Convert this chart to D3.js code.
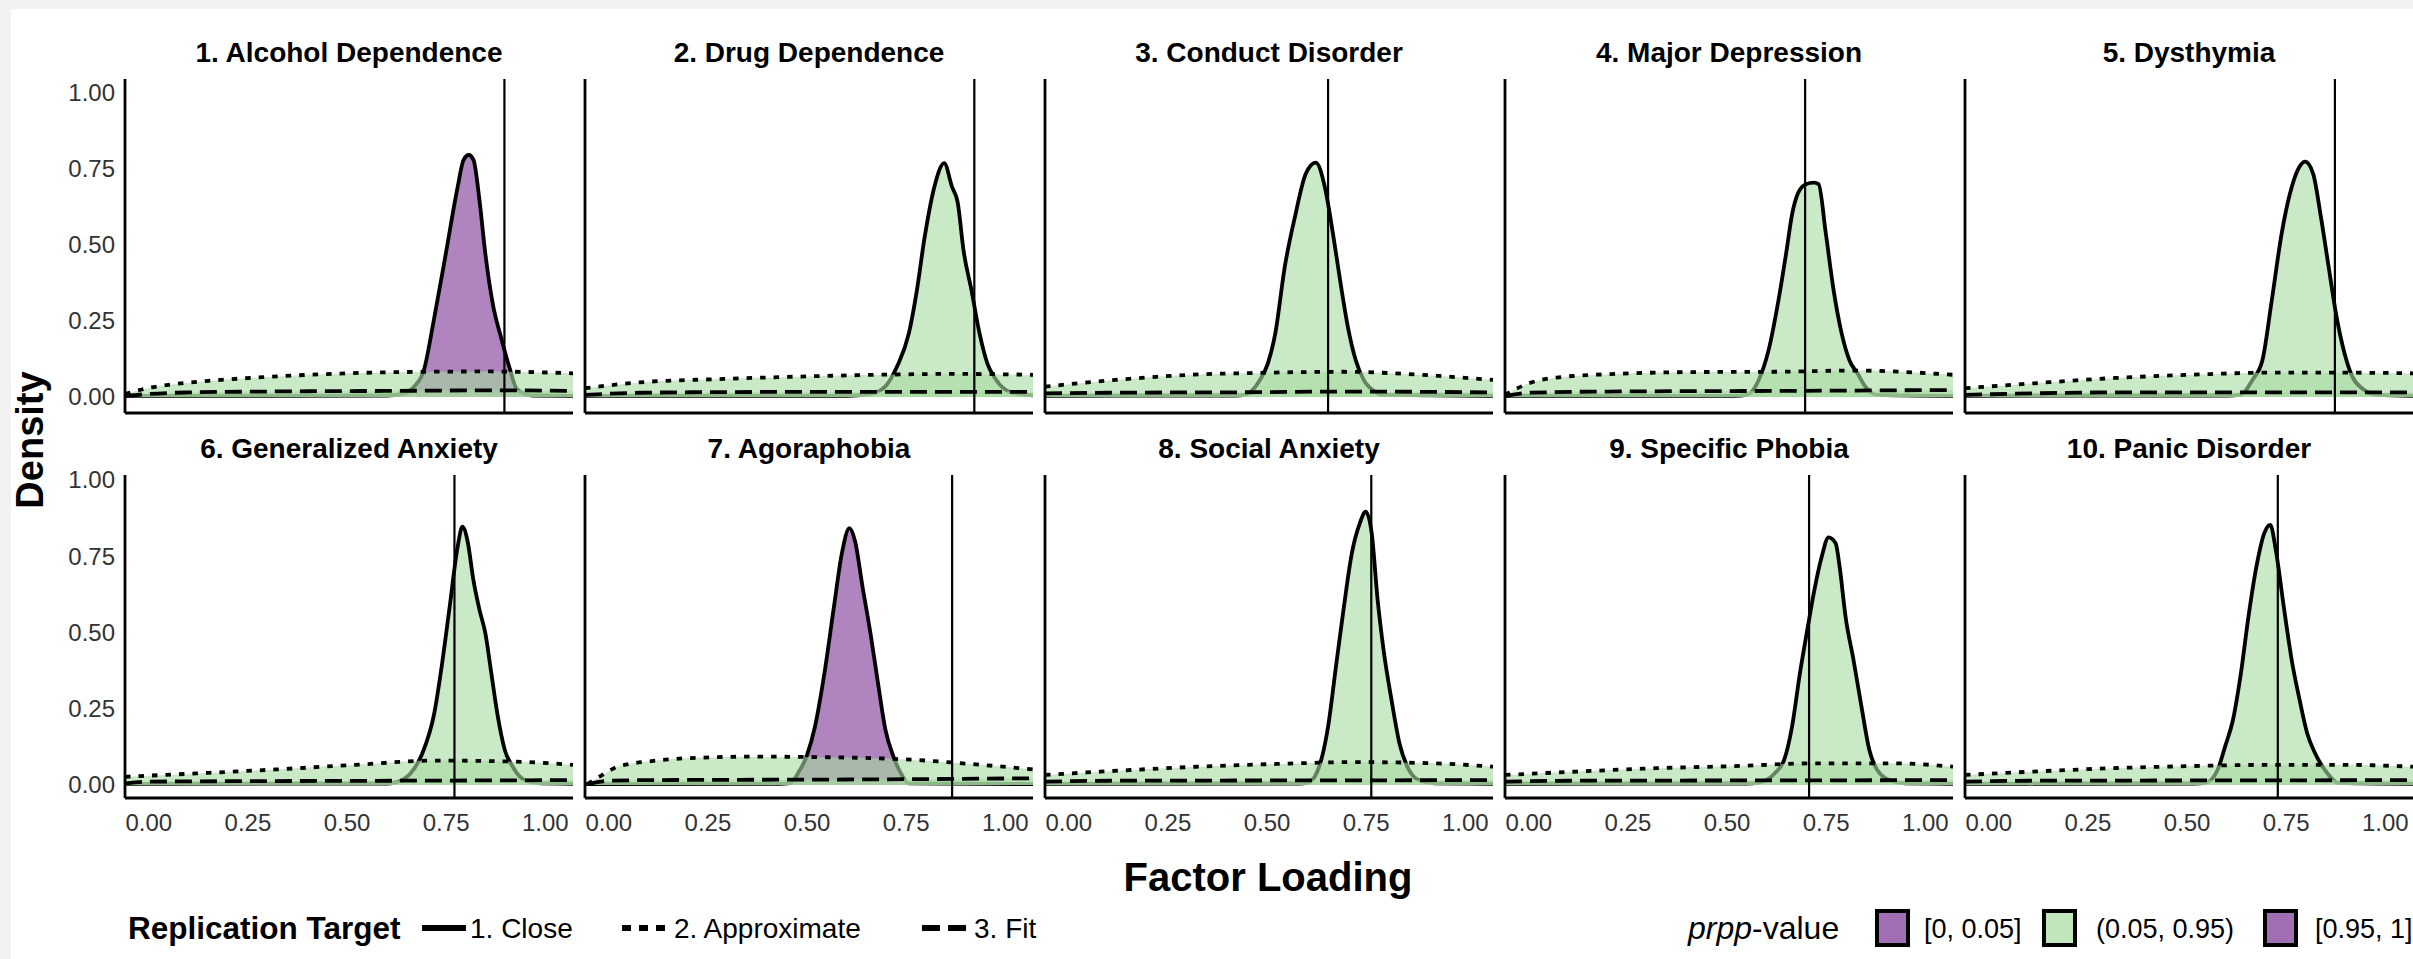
<!DOCTYPE html>
<html><head><meta charset="utf-8">
<script src="https://cdn.jsdelivr.net/npm/d3@7"></script>
<style>body{margin:0;background:#fff;} svg{display:block;}</style>
</head><body>
<script>
// ---------------- DATA ----------------
const titles = ["1. Alcohol Dependence","2. Drug Dependence","3. Conduct Disorder","4. Major Depression","5. Dysthymia",
                "6. Generalized Anxiety","7. Agoraphobia","8. Social Anxiety","9. Specific Phobia","10. Panic Disorder"];
const refLoadings = [0.897, 0.922, 0.654, 0.697, 0.873, 0.771, 0.866, 0.763, 0.707, 0.729];
const prppBins = ["[0, 0.05]","(0.05, 0.95)","(0.05, 0.95)","(0.05, 0.95)","(0.05, 0.95)",
                  "(0.05, 0.95)","[0, 0.05]","(0.05, 0.95)","(0.05, 0.95)","(0.05, 0.95)"];
// 1. Close replication: posterior density of loading  [loading, density]
const closeCurves = [
 [[-0.06,0.004],[0.3,0.004],[0.6,0.005],[0.64,0.01],[0.669,0.034],[0.694,0.089],[0.719,0.253],[0.749,0.47],[0.779,0.69],[0.794,0.78],[0.807,0.796],[0.819,0.78],[0.834,0.648],[0.849,0.47],[0.869,0.297],[0.888,0.198],[0.909,0.10],[0.929,0.025],[0.969,0.005],[1.07,0.004]],
 [[-0.06,0.004],[0.6,0.004],[0.66,0.01],[0.697,0.034],[0.727,0.10],[0.757,0.21],[0.777,0.35],[0.796,0.52],[0.821,0.69],[0.846,0.769],[0.866,0.69],[0.88,0.64],[0.895,0.48],[0.915,0.35],[0.935,0.21],[0.955,0.11],[0.975,0.06],[1.015,0.015],[1.07,0.005]],
 [[-0.06,0.004],[0.42,0.005],[0.445,0.008],[0.482,0.056],[0.502,0.11],[0.521,0.21],[0.545,0.43],[0.57,0.59],[0.598,0.735],[0.623,0.771],[0.646,0.69],[0.666,0.54],[0.686,0.37],[0.704,0.23],[0.724,0.12],[0.744,0.056],[0.772,0.018],[0.79,0.007],[1.07,0.004]],
 [[-0.06,0.004],[0.52,0.004],[0.55,0.007],[0.58,0.056],[0.605,0.155],[0.63,0.32],[0.65,0.48],[0.664,0.60],[0.679,0.67],[0.699,0.70],[0.719,0.705],[0.731,0.70],[0.749,0.54],[0.769,0.35],[0.789,0.21],[0.809,0.12],[0.829,0.078],[0.849,0.034],[0.878,0.007],[1.07,0.004]],
 [[-0.06,0.004],[0.6,0.005],[0.636,0.008],[0.665,0.056],[0.69,0.12],[0.714,0.32],[0.739,0.54],[0.764,0.69],[0.784,0.758],[0.798,0.774],[0.818,0.735],[0.838,0.59],[0.857,0.43],[0.877,0.265],[0.897,0.145],[0.917,0.067],[0.941,0.029],[0.981,0.007],[1.07,0.004]],
 [[-0.06,0.004],[0.6,0.005],[0.62,0.008],[0.66,0.038],[0.69,0.104],[0.72,0.235],[0.74,0.40],[0.759,0.585],[0.779,0.781],[0.791,0.847],[0.804,0.80],[0.819,0.67],[0.834,0.575],[0.849,0.497],[0.864,0.366],[0.879,0.235],[0.898,0.115],[0.918,0.06],[0.948,0.016],[0.988,0.005],[1.07,0.004]],
 [[-0.06,0.003],[0.43,0.004],[0.457,0.006],[0.477,0.038],[0.50,0.098],[0.52,0.191],[0.544,0.367],[0.568,0.585],[0.588,0.76],[0.607,0.842],[0.621,0.80],[0.64,0.65],[0.66,0.498],[0.679,0.334],[0.698,0.18],[0.718,0.093],[0.737,0.038],[0.757,0.005],[1.07,0.003]],
 [[-0.06,0.004],[0.58,0.005],[0.604,0.008],[0.634,0.07],[0.654,0.191],[0.674,0.389],[0.694,0.585],[0.714,0.76],[0.734,0.858],[0.749,0.896],[0.764,0.826],[0.779,0.607],[0.794,0.443],[0.814,0.279],[0.834,0.137],[0.854,0.06],[0.883,0.016],[0.923,0.005],[1.07,0.004]],
 [[-0.06,0.004],[0.55,0.005],[0.58,0.008],[0.62,0.038],[0.644,0.082],[0.664,0.191],[0.684,0.367],[0.704,0.52],[0.719,0.63],[0.739,0.749],[0.756,0.812],[0.774,0.793],[0.784,0.716],[0.799,0.552],[0.819,0.41],[0.839,0.258],[0.859,0.115],[0.879,0.049],[0.909,0.016],[0.949,0.005],[1.07,0.004]],
 [[-0.06,0.004],[0.52,0.005],[0.547,0.007],[0.577,0.049],[0.596,0.126],[0.616,0.214],[0.636,0.367],[0.655,0.552],[0.675,0.716],[0.695,0.826],[0.71,0.853],[0.724,0.77],[0.744,0.585],[0.764,0.41],[0.784,0.279],[0.803,0.17],[0.823,0.104],[0.848,0.049],[0.882,0.007],[1.07,0.004]]
];
// 2. Approximate replication
const approxCurves = [
 [[-0.06,0.01],[0.0,0.03],[0.05,0.04],[0.15,0.053],[0.3,0.066],[0.5,0.078],[0.7,0.083],[0.85,0.084],[1.07,0.078]],
 [[-0.06,0.029],[0.077,0.048],[0.277,0.059],[0.476,0.067],[0.675,0.073],[0.874,0.076],[1.07,0.073]],
 [[-0.06,0.034],[0.116,0.056],[0.308,0.073],[0.502,0.08],[0.694,0.083],[0.888,0.073],[1.07,0.056]],
 [[-0.06,0.007],[0.0,0.045],[0.07,0.064],[0.22,0.076],[0.42,0.082],[0.62,0.083],[0.82,0.087],[1.07,0.073]],
 [[-0.06,0.029],[0.113,0.045],[0.31,0.062],[0.507,0.073],[0.704,0.08],[0.9,0.08],[1.07,0.078]],
 [[-0.06,0.027],[0.12,0.038],[0.32,0.051],[0.52,0.066],[0.72,0.08],[0.918,0.077],[1.07,0.066]],
 [[-0.054,0.003],[-0.016,0.033],[0.023,0.06],[0.12,0.08],[0.264,0.091],[0.36,0.093],[0.554,0.091],[0.748,0.084],[0.941,0.066],[1.07,0.051]],
 [[-0.06,0.033],[0.126,0.047],[0.325,0.06],[0.525,0.069],[0.724,0.075],[0.924,0.071],[1.07,0.06]],
 [[-0.06,0.033],[0.12,0.044],[0.32,0.055],[0.52,0.062],[0.72,0.071],[0.92,0.071],[1.07,0.06]],
 [[-0.06,0.033],[0.113,0.044],[0.31,0.055],[0.507,0.062],[0.704,0.066],[0.9,0.066],[1.07,0.06]]
];
// 3. Fit replication
const fitCurves = [
 [[-0.06,0.003],[0.0,0.01],[0.1,0.015],[0.3,0.018],[0.6,0.02],[0.9,0.022],[1.07,0.02]],
 [[-0.06,0.007],[0.077,0.014],[0.277,0.016],[0.6,0.017],[1.07,0.017]],
 [[-0.06,0.012],[0.1,0.014],[0.5,0.016],[0.7,0.018],[1.07,0.015]],
 [[-0.06,0.003],[0.0,0.014],[0.2,0.018],[0.62,0.02],[1.07,0.023]],
 [[-0.06,0.007],[0.113,0.012],[0.3,0.015],[1.07,0.015]],
 [[-0.06,0.005],[0.0,0.011],[0.62,0.014],[1.07,0.016]],
 [[-0.054,0.003],[0.0,0.014],[0.1,0.016],[0.6,0.018],[1.07,0.022]],
 [[-0.06,0.011],[0.1,0.014],[0.6,0.015],[1.07,0.016]],
 [[-0.06,0.011],[0.1,0.014],[0.6,0.015],[1.07,0.016]],
 [[-0.06,0.011],[0.1,0.014],[0.6,0.015],[1.07,0.016]]
];
const xTicks = [0, 0.25, 0.5, 0.75, 1];
const yTicks = [0, 0.25, 0.5, 0.75, 1];
const targetLabels = ["1. Close", "2. Approximate", "3. Fit"];
const prppLabels = ["[0, 0.05]", "(0.05, 0.95)", "[0.95, 1]"];

// ---------------- STYLE / LAYOUT ----------------
const W = 2413, H = 959;
const FONT = "'Liberation Sans', Arial, Helvetica, sans-serif";
const binColor = {"[0, 0.05]":"#7b3294","(0.05, 0.95)":"#a6dba0","[0.95, 1]":"#7b3294"};
const GREEN = "#a6dba0";
const dashFor = {"1. Close":null, "2. Approximate":"5.5,8", "3. Fit":"17,8"};
const rows = [
  {top:79, bottom:413, y0:397, y1:93, titleY:62},
  {top:475, bottom:798, y0:785, y1:480, titleY:458}
];
const colLeft = i => 125 + i*460;
const panelW = 448;

const svg = d3.select("body").append("svg").attr("width", W).attr("height", H)
  .style("font-family", FONT);
svg.append("rect").attr("width", W).attr("height", H).attr("fill", "#ffffff");
svg.append("rect").attr("x",0).attr("y",0).attr("width",W).attr("height",9).attr("fill","#f2f2f2");
svg.append("rect").attr("x",0).attr("y",0).attr("width",11).attr("height",H).attr("fill","#f2f2f2");

const defs = svg.append("defs");

titles.forEach((title, i) => {
  const r = rows[Math.floor(i/5)], c = i % 5;
  const left = colLeft(c);
  const x = d3.scaleLinear().domain([-0.06, 1.07]).range([left, left + panelW]);
  const y = d3.scaleLinear().domain([0, 1]).range([r.y0, r.y1]);
  const g = svg.append("g");
  defs.append("clipPath").attr("id", "clip"+i).append("rect")
    .attr("x", left).attr("y", r.top).attr("width", panelW).attr("height", r.bottom - r.top);
  const pg = g.append("g").attr("clip-path", `url(#clip${i})`);

  const area = d3.area().x(d => x(d[0])).y0(y(0)).y1(d => y(d[1])).curve(d3.curveMonotoneX);
  const line = d3.line().x(d => x(d[0])).y(d => y(d[1])).curve(d3.curveMonotoneX);

  const layers = [
    {data: closeCurves[i], fill: binColor[prppBins[i]], dash: dashFor["1. Close"]},
    {data: approxCurves[i], fill: GREEN, dash: dashFor["2. Approximate"]},
    {data: fitCurves[i], fill: GREEN, dash: dashFor["3. Fit"]}
  ];
  layers.forEach(L => {
    pg.append("path").attr("d", area(L.data)).attr("fill", L.fill).attr("fill-opacity", 0.6);
    pg.append("path").attr("d", line(L.data)).attr("fill", "none").attr("stroke", "#000")
      .attr("stroke-width", 3.8).attr("stroke-linejoin","round")
      .attr("stroke-dasharray", L.dash);
  });
  // reference (original study) loading
  pg.append("line").attr("x1", x(refLoadings[i])).attr("x2", x(refLoadings[i]))
    .attr("y1", r.top).attr("y2", r.bottom).attr("stroke", "#000").attr("stroke-width", 2.2);

  // axis lines
  g.append("line").attr("x1", left).attr("x2", left + panelW).attr("y1", r.bottom).attr("y2", r.bottom)
    .attr("stroke", "#000").attr("stroke-width", 2.8);
  g.append("line").attr("x1", left).attr("x2", left).attr("y1", r.top).attr("y2", r.bottom)
    .attr("stroke", "#000").attr("stroke-width", 2.8);

  // title
  g.append("text").attr("x", left + panelW/2).attr("y", r.titleY).attr("text-anchor", "middle")
    .attr("font-weight", "bold").attr("font-size", 28).attr("fill", "#000").text(title);

  if (c === 0) {
    g.selectAll(".yt").data(yTicks).enter().append("text")
      .attr("x", left - 10).attr("y", d => y(d)).attr("dy", "0.35em").attr("text-anchor", "end")
      .attr("font-size", 24).attr("fill", "#333").text(d => d3.format(".2f")(d));
  }
  if (i >= 5) {
    g.selectAll(".xt").data(xTicks).enter().append("text")
      .attr("x", d => x(d)).attr("y", 831).attr("text-anchor", "middle")
      .attr("font-size", 24).attr("fill", "#333").text(d => d3.format(".2f")(d));
  }
});

// axis titles
svg.append("text").attr("x", 1268).attr("y", 891).attr("text-anchor", "middle")
  .attr("font-weight", "bold").attr("font-size", 40).text("Factor Loading");
svg.append("text").attr("transform", "translate(43,440) rotate(-90)").attr("text-anchor", "middle")
  .attr("font-weight", "bold").attr("font-size", 38).text("Density");

// legend: replication target
const lg = svg.append("g");
const LY = 928;
lg.append("text").attr("x", 128).attr("y", LY + 11).attr("font-weight", "bold").attr("font-size", 31.5)
  .text("Replication Target");
const keyX = [422, 622, 922], labX = [470, 674, 974];
targetLabels.forEach((t, k) => {
  lg.append("line").attr("x1", keyX[k]).attr("x2", keyX[k] + 44).attr("y1", LY).attr("y2", LY)
    .attr("stroke", "#000").attr("stroke-width", 6)
    .attr("stroke-dasharray", k === 0 ? null : (k === 1 ? "9,8" : "18,8"));
  lg.append("text").attr("x", labX[k]).attr("y", LY + 10).attr("font-size", 28).text(t);
});

// legend: prpp-value
const pg2 = svg.append("g");
const pt = pg2.append("text").attr("x", 1688).attr("y", LY + 11).attr("font-size", 32);
pt.append("tspan").attr("font-style", "italic").text("prpp");
pt.append("tspan").text("-value");
const boxX = [1877, 2044, 2265], blabX = [1924, 2096, 2315];
prppLabels.forEach((t, k) => {
  pg2.append("rect").attr("x", boxX[k]).attr("y", LY - 17).attr("width", 31).attr("height", 34)
    .attr("fill", binColor[t]).attr("fill-opacity", 0.7).attr("stroke", "#000").attr("stroke-width", 4);
  pg2.append("text").attr("x", blabX[k]).attr("y", LY + 10).attr("font-size", 27).text(t);
});
</script>
</body></html>
